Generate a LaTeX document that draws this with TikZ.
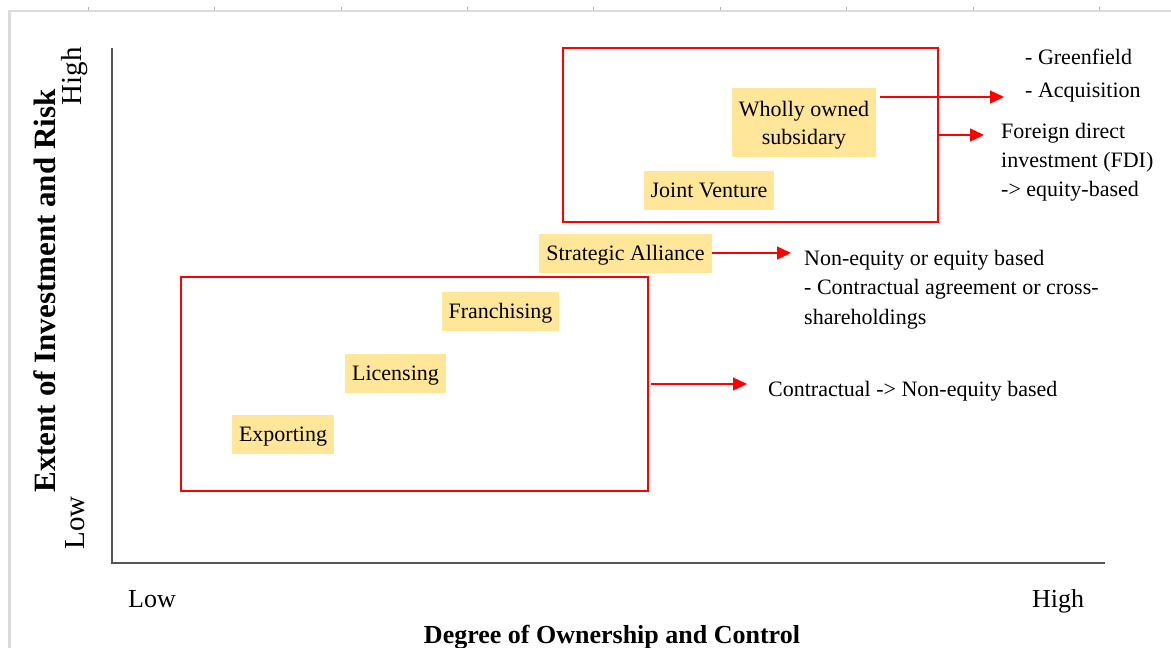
\documentclass[tikz,border=0pt]{standalone}
\usepackage{fontspec}
\setmainfont{Liberation Serif}
\usetikzlibrary{arrows.meta}
\definecolor{labelfill}{RGB}{255,230,153}
\definecolor{framegray}{RGB}{218,218,218}
\definecolor{axisgray}{RGB}{85,85,85}

\begin{document}
\begin{tikzpicture}[x=1pt,y=-1pt,
  every node/.style={font=\fontsize{22}{29}\selectfont},
  modebox/.style={fill=labelfill, inner xsep=7pt, inner ysep=9.5pt, text height=17pt, text depth=3pt},
  groupbox/.style={draw=red, line width=2pt, inner sep=0pt},
  redarrow/.style={draw=red, line width=1.4pt, -{Triangle[length=14pt,width=13pt]}},
  note/.style={anchor=north west, inner sep=0pt, align=left},
  axislbl/.style={font=\fontsize{26}{30}\selectfont, inner sep=0pt},
  yaxislbl/.style={font=\fontsize{29}{32}\selectfont, inner sep=0pt, rotate=90},
  frameline/.style={draw=framegray, line width=2.5pt},
]
\useasboundingbox (0,0) rectangle (1171,648);

% page frame with ruler ticks
\draw[frameline] (9.5,648) -- (9.5,11) -- (1171,11);
\foreach \k in {0,...,8}
  \draw[framegray!80!black, line width=0.6pt] ({88+126.4*\k},6.5) -- ({88+126.4*\k},9.5);

% axes
\coordinate (ytop) at (112,48);
\coordinate (orig) at (112,563);
\coordinate (xend) at (1105,563);
\draw[axisgray, line width=1.6pt] (ytop) -- (orig) -- (xend);

% axis labels
\node[axislbl, anchor=base] (xlow) at (152,607) {Low};
\node[axislbl, anchor=base] (xhigh) at (1058,607) {High};
\node[axislbl, anchor=base, font=\fontsize{26}{30}\selectfont\bfseries] (xtitle) at (612,643) {Degree of Ownership and Control};
\node[yaxislbl] (ylow) at (75,523) {Low};
\node[yaxislbl] (yhigh) at (75,76) {High};
\node[yaxislbl, font=\fontsize{31}{33}\selectfont\bfseries] (ytitle) at (45,291) {Extent of Investment and Risk};

% grouping boxes
\node[groupbox, minimum width=375pt, minimum height=174pt] (fdibox) at (750.5,135) {};
\node[groupbox, minimum width=467pt, minimum height=214pt] (lowbox) at (414.5,384) {};

% entry modes
\node[fill=labelfill, minimum width=144pt, minimum height=69pt, inner sep=0pt, align=center, font=\fontsize{22}{28}\selectfont] (wos) at (804,122.5)
  {\raisebox{-3pt}[\height][\depth]{Wholly owned}\\\raisebox{-3pt}[\height][\depth]{subsidary}};
\node[modebox] (jv) at (709,190.5) {Joint Venture};
\node[modebox] (sa) at (625.5,253) {Strategic Alliance};
\node[modebox] (fr) at (500.5,311.5) {Franchising};
\node[modebox] (li) at (395.5,373) {Licensing};
\node[modebox] (ex) at (283,434.5) {Exporting};

% notes
\node[note] (green) at (1025,49) {- Greenfield};
\node[note] (acq) at (1025,83) {- Acquisition};
\node[note] (fdi) at (1001,123) {Foreign direct\\investment (FDI)\\-> equity-based};
\node[note, font=\fontsize{22}{29.5}\selectfont] (neq) at (804,250) {Non-equity or equity based\\- Contractual agreement or cross-\\shareholdings};
\node[note] (ctr) at (768,381) {Contractual -> Non-equity based};

% connectors
\coordinate (tipA) at (1004,97);
\coordinate (tipB) at (984,135);
\coordinate (tipC) at (791,253);
\coordinate (tipD) at (747,384);
\draw[redarrow] ([xshift=4pt]wos.east |- tipA) -- (tipA);
\draw[redarrow] (fdibox.east) -- (tipB);
\draw[redarrow] (sa.east) -- (tipC);
\draw[redarrow] ([xshift=2pt]lowbox.east) -- (tipD);
\end{tikzpicture}
\end{document}
